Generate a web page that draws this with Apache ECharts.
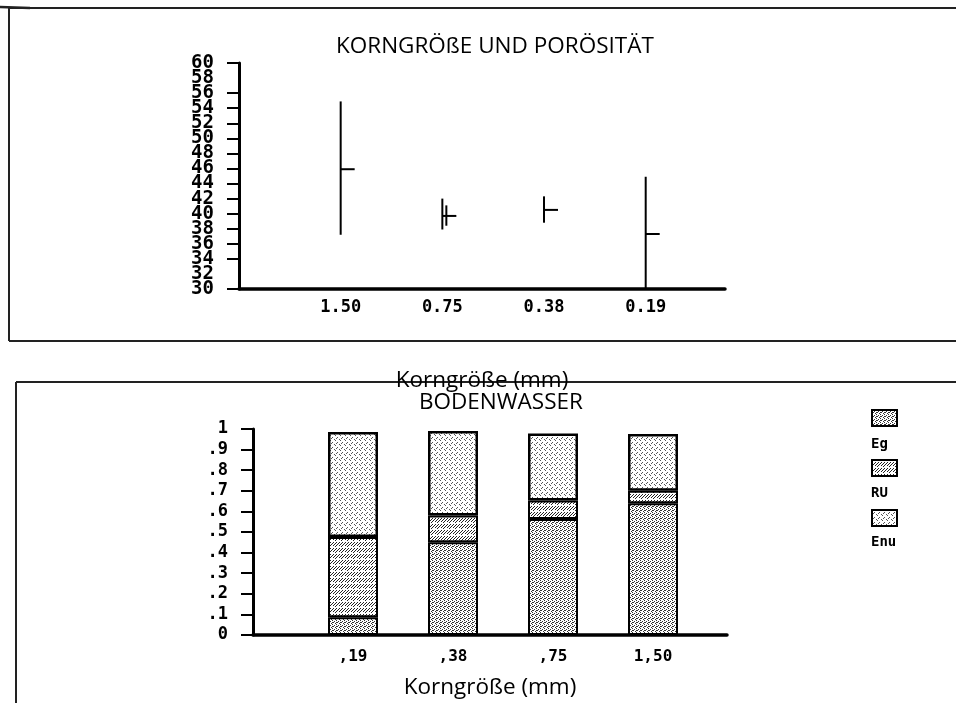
<!DOCTYPE html>
<html>
<head>
<meta charset="utf-8">
<script src="https://cdn.jsdelivr.net/npm/echarts@6/dist/echarts.min.js"></script>
<style>
  html, body { margin: 0; padding: 0; background: #fff; }
  #charts { width: 956px; height: 703px; }
</style>
</head>
<body>
<div id="charts"></div>
<script>
// oben: Korngröße und Porösität
const topCats = ['1.50', '0.75', '0.38', '0.19'];
const rangeLow = [37.2, 37.9, 38.8, 30];
const rangeHigh = [54.9, 42.0, 42.3, 44.9];
const meanVal = [45.9, 39.7, 40.5, 37.3];
const innerLow = [null, 38.4, null, null];
const innerHigh = [null, 41.1, null, null];
const topYMin = 30, topYMax = 60, topYStep = 2;

// unten: Bodenwasser
const bottomCats = [',19', ',38', ',75', '1,50'];
const egVal = [0.086, 0.45, 0.563, 0.64];
const ruVal = [0.39, 0.13, 0.09, 0.06];
const enuVal = [0.51, 0.41, 0.325, 0.276];
const bottomYLabels = ['0', '.1', '.2', '.3', '.4', '.5', '.6', '.7', '.8', '.9', '1'];

const mono = '"DejaVu Sans Mono", monospace';
const sans = '"Open Sans", sans-serif';

// kleine Punktmuster wie auf dem Drucker
function makePattern(size, dots, col) {
  let c = document.createElement('canvas');
  c.width = size;
  c.height = size;
  let ctx = c.getContext('2d');
  ctx.fillStyle = '#fff';
  ctx.fillRect(0, 0, size, size);
  ctx.fillStyle = col;
  dots.forEach(d => ctx.fillRect(d[0], d[1], 1, 1));
  return { image: c, repeat: 'repeat' };
}
const enuPat = makePattern(5, [[0, 0], [2, 2], [4, 4], [1, 3]], '#555');
const egPat = makePattern(4, [[0, 0], [2, 1], [1, 2], [3, 3], [0, 2]], '#333');
const ruPat = makePattern(6, [[0, 5], [1, 4], [2, 3], [3, 2], [5, 0], [3, 5], [4, 4], [0, 2], [5, 3]], '#222');

let topData = topCats.map((c, i) => [i + 1, rangeLow[i], rangeHigh[i], meanVal[i], innerLow[i], innerHigh[i]]);
// y zuerst, damit gestapelt wird
let toYX = arr => arr.map((v, i) => [v, i + 1]);

let topLabelStyle = { fontFamily: mono, fontWeight: 'bold', fontSize: 19, color: '#000' };

let myChart = echarts.init(document.getElementById('charts'));
let option = {
  animation: false,
  title: [
    { text: 'KORNGRÖßE UND PORÖSITÄT', left: 331, top: 30,
      textStyle: { fontFamily: sans, fontSize: 22.5, fontWeight: 'normal', color: '#000' } },
    { text: 'BODENWASSER', left: 414, top: 386,
      textStyle: { fontFamily: sans, fontSize: 22.5, fontWeight: 'normal', color: '#000' } }
  ],
  legend: [
    {
      data: ['Eg', 'RU', 'Enu'],
      orient: 'vertical', left: 866, top: 404,
      itemWidth: 25, itemHeight: 16, itemGap: 32,
      icon: 'rect',
      formatter: () => '',
      selectedMode: false
    },
    {
      data: ['Eg', 'RU', 'Enu'],
      orient: 'vertical', left: 860, top: 432,
      itemWidth: 1, itemHeight: 14, itemGap: 35,
      icon: 'rect',
      itemStyle: { opacity: 0, borderWidth: 0 },
      selectedMode: false,
      textStyle: { fontFamily: mono, fontWeight: 'bold', fontSize: 14, color: '#000' }
    }
  ],
  grid: [
    { left: 239, top: 63, width: 486, height: 226, containLabel: false, outerBoundsMode: 'none' },
    { left: 253, top: 429, width: 474, height: 206, containLabel: false, outerBoundsMode: 'none' }
  ],
  xAxis: [
    {
      type: 'value', gridIndex: 0, min: 0, max: 4.78, interval: 1,
      name: 'Korngröße (mm)', nameLocation: 'middle', nameGap: 80,
      nameTextStyle: { fontFamily: sans, fontSize: 22.5, color: '#000' },
      axisLine: { lineStyle: { color: '#000', width: 3.5 } },
      axisTick: { show: false },
      splitLine: { show: false },
      axisLabel: {
        margin: 10, fontFamily: mono, fontWeight: 'bold', fontSize: 17, color: '#000',
        formatter: v => (Number.isInteger(v) && v >= 1 && v <= 4) ? topCats[v - 1] : ''
      }
    },
    {
      type: 'value', gridIndex: 1, min: 0, max: 4.74, interval: 1,
      name: 'Korngröße (mm)', nameLocation: 'middle', nameGap: 41,
      nameTextStyle: { fontFamily: sans, fontSize: 22.5, color: '#000' },
      axisLine: { lineStyle: { color: '#000', width: 3.5 } },
      axisTick: { show: false },
      splitLine: { show: false },
      axisLabel: {
        margin: 14, fontFamily: mono, fontWeight: 'bold', fontSize: 16, color: '#000',
        formatter: v => (Number.isInteger(v) && v >= 1 && v <= 4) ? bottomCats[v - 1] : ''
      }
    }
  ],
  yAxis: [
    {
      type: 'value', gridIndex: 0, position: 'left', min: topYMin, max: topYMax, interval: topYStep,
      axisLine: { show: true, lineStyle: { color: '#000', width: 3 } },
      axisTick: { show: true, length: 12, lineStyle: { color: '#000', width: 2 } },
      splitLine: { show: false },
      axisLabel: Object.assign({ margin: 25, hideOverlap: false, showMinLabel: true, showMaxLabel: true }, topLabelStyle)
    },
    {
      type: 'value', gridIndex: 1, position: 'left', min: 0, max: 1, interval: 0.1,
      axisLine: { show: true, lineStyle: { color: '#000', width: 3 } },
      axisTick: { show: true, length: 12, lineStyle: { color: '#000', width: 2 } },
      splitLine: { show: false },
      axisLabel: {
        margin: 25, hideOverlap: false, showMinLabel: true, showMaxLabel: true,
        fontFamily: mono, fontWeight: 'bold', fontSize: 17, color: '#000',
        formatter: v => bottomYLabels[Math.round(v * 10)]
      }
    },
    {
      // nur für die Beschriftungen neben 60 und 30, die sonst wegfallen
      type: 'value', gridIndex: 0, position: 'left', offset: 0,
      min: topYMin, max: topYMax, interval: topYStep,
      axisLine: { show: false },
      axisTick: { show: false },
      splitLine: { show: false },
      axisLabel: Object.assign({
        margin: 25, hideOverlap: false, showMinLabel: true, showMaxLabel: true,
        formatter: v => (v === topYMin + topYStep || v === topYMax - topYStep) ? String(v) : ''
      }, topLabelStyle)
    }
  ],
  graphic: [
    { type: 'line', shape: { x1: 9, y1: 8, x2: 956, y2: 8 }, style: { stroke: '#222', lineWidth: 2 } },
    { type: 'line', shape: { x1: 0, y1: 7, x2: 30, y2: 8 }, style: { stroke: '#222', lineWidth: 2.5 } },
    { type: 'line', shape: { x1: 9, y1: 8, x2: 9, y2: 341 }, style: { stroke: '#222', lineWidth: 2 } },
    { type: 'line', shape: { x1: 9, y1: 341, x2: 956, y2: 341 }, style: { stroke: '#222', lineWidth: 2 } },
    { type: 'line', shape: { x1: 16, y1: 382, x2: 956, y2: 382 }, style: { stroke: '#222', lineWidth: 2 } },
    { type: 'line', shape: { x1: 16, y1: 382, x2: 16, y2: 703 }, style: { stroke: '#222', lineWidth: 2 } }
  ],
  series: [
    {
      name: 'Porösität',
      type: 'custom',
      xAxisIndex: 0, yAxisIndex: 0,
      encode: { x: 0, y: [1, 2, 3] },
      data: topData,
      renderItem: function (params, api) {
        let x = api.value(0);
        let low = api.coord([x, api.value(1)]);
        let high = api.coord([x, api.value(2)]);
        let mid = api.coord([x, api.value(3)]);
        let st = { stroke: '#000', lineWidth: 2 };
        let children = [
          { type: 'line', shape: { x1: low[0], y1: low[1], x2: high[0], y2: high[1] }, style: st },
          { type: 'line', shape: { x1: mid[0], y1: mid[1], x2: mid[0] + 14, y2: mid[1] }, style: st }
        ];
        let il = api.value(4), ih = api.value(5);
        if (!isNaN(il) && !isNaN(ih)) {
          let a = api.coord([x, il]);
          let b = api.coord([x, ih]);
          children.push({ type: 'line', shape: { x1: a[0] + 4, y1: a[1], x2: b[0] + 4, y2: b[1] }, style: st });
        }
        return { type: 'group', children: children };
      }
    },
    {
      name: 'Eg', type: 'bar', stack: 'w', xAxisIndex: 1, yAxisIndex: 1,
      encode: { x: 1, y: 0 },
      barWidth: 50, data: toYX(egVal),
      itemStyle: { color: egPat, borderColor: '#000', borderWidth: 2 }
    },
    {
      name: 'RU', type: 'bar', stack: 'w', xAxisIndex: 1, yAxisIndex: 1,
      encode: { x: 1, y: 0 },
      barWidth: 50, data: toYX(ruVal),
      itemStyle: { color: ruPat, borderColor: '#000', borderWidth: 2 }
    },
    {
      name: 'Enu', type: 'bar', stack: 'w', xAxisIndex: 1, yAxisIndex: 1,
      encode: { x: 1, y: 0 },
      barWidth: 50, data: toYX(enuVal),
      itemStyle: { color: enuPat, borderColor: '#000', borderWidth: 2.5 }
    }
  ]
};
myChart.setOption(option);
</script>
</body>
</html>
